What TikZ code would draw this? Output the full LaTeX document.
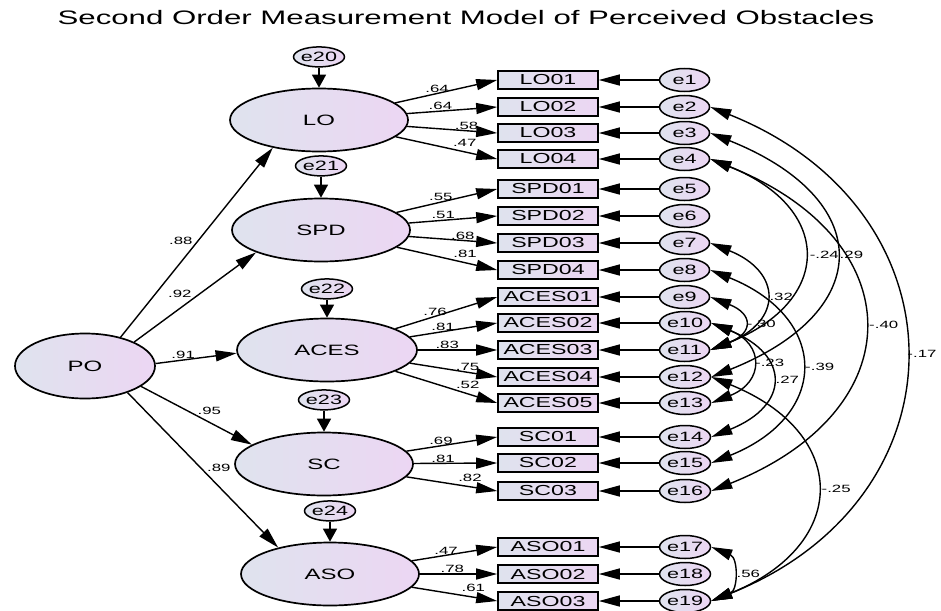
\documentclass[tikz,border=0pt]{standalone}
\usepackage{fontspec}
\setmainfont{Liberation Sans}[FakeStretch=1.6]
\usetikzlibrary{positioning,arrows.meta,shapes.geometric}
\definecolor{latA}{HTML}{DFE3EE}
\definecolor{latB}{HTML}{ECD6F3}

\begin{document}
\begin{tikzpicture}[
    x=1pt, y=1pt,
    lat/.style  = {draw, ellipse, line width=1.7pt, left color=latA, right color=latB,
                   minimum width=178pt, minimum height=63pt, inner sep=0pt,
                   font=\fontsize{15}{17}\selectfont},
    err/.style  = {draw, ellipse, line width=1.5pt, left color=latA, right color=latB,
                   minimum width=50pt, minimum height=23pt, inner sep=0pt,
                   font=\fontsize{13.5}{15}\selectfont},
    dist/.style = {err, minimum height=20pt},
    obs/.style  = {draw, rectangle, line width=1.6pt, left color=latA, right color=latB,
                   minimum width=100pt, minimum height=18pt, inner sep=0pt,
                   font=\fontsize{14.5}{16}\selectfont},
    ar/.style   = {-{Triangle[length=21pt,width=11pt]}, line width=1.4pt},
    dar/.style  = {-{Triangle[length=13pt,width=14pt]}, line width=1.4pt},
    cov/.style  = {{Triangle[length=21pt,width=11pt]}-{Triangle[length=21pt,width=11pt]},
                   line width=1.4pt},
    lbl/.style  = {font=\fontsize{10.5}{12}\selectfont, inner sep=0.5pt},
]
\useasboundingbox (0,0) rectangle (941,-610);

% ---------------- title ----------------
\node[font=\fontsize{19.5}{22}\selectfont] (title) at (466,-18)
    {Second Order Measurement Model of Perceived Obstacles};

% ---------------- latent factors ----------------
\node[lat, minimum width=140pt, minimum height=65pt] (PO) at (85,-366) {PO};
\node[lat] (LO)   at (319,-120) {LO};
\node[lat] (SPD)  at (321,-230) {SPD};
\node[lat, minimum width=180pt] (ACES) at (327,-350) {ACES};
\node[lat] (SC)   at (324,-464) {SC};
\node[lat] (ASO)  at (330,-574) {ASO};

% disturbances
\node[dist, above=20pt of LO]   (e20) {e20};
\node[dist, above=21pt of SPD]  (e21) {e21};
\node[dist, above=18pt of ACES] (e22) {e22};
\node[dist, above=21pt of SC]   (e23) {e23};
\node[dist, above=20pt of ASO]  (e24) {e24};

\draw[dar] (e20) -- (LO);
\draw[dar] (e21) -- (SPD);
\draw[dar] (e22) -- (ACES);
\draw[dar] (e23) -- (SC);
\draw[dar] (e24) -- (ASO);

% ---------------- second order paths ----------------
\draw[ar] (PO.39)  -- node[lbl, pos=0.48, above left]  {.88} (LO.211);
\draw[ar] (PO.26)  -- node[lbl, pos=0.48, above left]  {.92} (SPD.199);
\draw[ar] (PO.2)   -- node[lbl, pos=0.34, above]       {.91} (ACES.182);
\draw[ar] (PO.340) -- node[lbl, pos=0.50, above right] {.95} (SC.165);
\draw[ar] (PO.328) -- node[lbl, pos=0.52, above right] {.89} (ASO.153);

% ---------------- indicators ----------------
\node[obs] (LO01) at (548,-80)  {LO01};
\node[obs] (LO02) at (548,-107) {LO02};
\node[obs] (LO03) at (548,-133) {LO03};
\node[obs] (LO04) at (548,-159) {LO04};
\node[obs] (SPD01) at (548,-189) {SPD01};
\node[obs] (SPD02) at (548,-216) {SPD02};
\node[obs] (SPD03) at (548,-243) {SPD03};
\node[obs] (SPD04) at (548,-270) {SPD04};
\node[obs] (ACES01) at (548,-297) {ACES01};
\node[obs] (ACES02) at (548,-323) {ACES02};
\node[obs] (ACES03) at (548,-350) {ACES03};
\node[obs] (ACES04) at (548,-377) {ACES04};
\node[obs] (ACES05) at (548,-403) {ACES05};
\node[obs] (SC01) at (548,-437) {SC01};
\node[obs] (SC02) at (548,-463) {SC02};
\node[obs] (SC03) at (548,-491) {SC03};
\node[obs] (ASO01) at (548,-547) {ASO01};
\node[obs] (ASO02) at (548,-574) {ASO02};
\node[obs] (ASO03) at (548,-601) {ASO03};

% loadings
\draw[ar] (LO) -- node[lbl, pos=0.41, above] {.64} (LO01.west);
\draw[ar] (LO) -- node[lbl, pos=0.37, above] {.64} (LO02.west);
\draw[ar] (LO) -- node[lbl, pos=0.66, above] {.58} (LO03.west);
\draw[ar] (LO) -- node[lbl, pos=0.68, above=4pt] {.47} (LO04.west);

\draw[ar] (SPD) -- node[lbl, pos=0.44, above] {.55} (SPD01.west);
\draw[ar] (SPD) -- node[lbl, pos=0.39, above] {.51} (SPD02.west);
\draw[ar] (SPD) -- node[lbl, pos=0.61, above] {.68} (SPD03.west);
\draw[ar] (SPD) -- node[lbl, pos=0.68, above=4pt] {.81} (SPD04.west);

\draw[ar] (ACES) -- node[lbl, pos=0.39, above] {.76} (ACES01.west);
\draw[ar] (ACES) -- node[lbl, pos=0.38, above] {.81} (ACES02.west);
\draw[ar] (ACES) -- node[lbl, pos=0.37, above] {.83} (ACES03.west);
\draw[ar] (ACES) -- node[lbl, pos=0.66, above] {.75} (ACES04.west);
\draw[ar] (ACES) -- node[lbl, pos=0.71, above=4pt] {.52} (ACES05.west);

\draw[ar] (SC) -- node[lbl, pos=0.38, above] {.69} (SC01.west);
\draw[ar] (SC) -- node[lbl, pos=0.35, above] {.81} (SC02.west);
\draw[ar] (SC) -- node[lbl, pos=0.70, above=4pt] {.82} (SC03.west);

\draw[ar] (ASO) -- node[lbl, pos=0.40, above] {.47} (ASO01.west);
\draw[ar] (ASO) -- node[lbl, pos=0.42, above] {.78} (ASO02.west);
\draw[ar] (ASO) -- node[lbl, pos=0.72, above=4pt] {.61} (ASO03.west);

% ---------------- measurement errors ----------------
\node[err, right=60pt of LO01] (e1) {e1};
\node[err, right=60pt of LO02] (e2) {e2};
\node[err, right=60pt of LO03] (e3) {e3};
\node[err, right=60pt of LO04] (e4) {e4};
\node[err, right=60pt of SPD01] (e5) {e5};
\node[err, right=60pt of SPD02] (e6) {e6};
\node[err, right=60pt of SPD03] (e7) {e7};
\node[err, right=60pt of SPD04] (e8) {e8};
\node[err, right=60pt of ACES01] (e9) {e9};
\node[err, right=60pt of ACES02] (e10) {e10};
\node[err, right=60pt of ACES03] (e11) {e11};
\node[err, right=60pt of ACES04] (e12) {e12};
\node[err, right=60pt of ACES05] (e13) {e13};
\node[err, right=60pt of SC01] (e14) {e14};
\node[err, right=60pt of SC02] (e15) {e15};
\node[err, right=60pt of SC03] (e16) {e16};
\node[err, right=60pt of ASO01] (e17) {e17};
\node[err, right=60pt of ASO02] (e18) {e18};
\node[err, right=60pt of ASO03] (e19) {e19};

\draw[ar] (e1) -- (LO01);
\draw[ar] (e2) -- (LO02);
\draw[ar] (e3) -- (LO03);
\draw[ar] (e4) -- (LO04);
\draw[ar] (e5) -- (SPD01);
\draw[ar] (e6) -- (SPD02);
\draw[ar] (e7) -- (SPD03);
\draw[ar] (e8) -- (SPD04);
\draw[ar] (e9) -- (ACES01);
\draw[ar] (e10) -- (ACES02);
\draw[ar] (e11) -- (ACES03);
\draw[ar] (e12) -- (ACES04);
\draw[ar] (e13) -- (ACES05);
\draw[ar] (e14) -- (SC01);
\draw[ar] (e15) -- (SC02);
\draw[ar] (e16) -- (SC03);
\draw[ar] (e17) -- (ASO01);
\draw[ar] (e18) -- (ASO02);
\draw[ar] (e19) -- (ASO03);

% ---------------- error covariances ----------------
\draw[cov] (e2.east) .. controls +(258,-103) and +(258,103) .. (e19.east)
    node[lbl, pos=0.5, right=2pt] {-.17};
\draw[cov] (e3.east) .. controls +(165,-66) and +(165,66) .. (e12.east)
    node[lbl, pos=0.5, right=4pt] {.29};
\draw[cov] (e4.east) .. controls +(123,-49) and +(123,49) .. (e11.east)
    node[lbl, pos=0.5, right=6pt] {-.24};
\draw[cov] (e4.east) .. controls +(203,-81) and +(203,81) .. (e16.east)
    node[lbl, pos=0.5, right=5pt] {-.40};
\draw[cov] (e7.east) .. controls +(72,-29) and +(72,29) .. (e11.east)
    node[lbl, pos=0.5, right=4pt] {.32};
\draw[cov] (e8.east) .. controls +(119,-48) and +(119,48) .. (e15.east)
    node[lbl, pos=0.5, right=4pt] {-.39};
\draw[cov] (e9.east) .. controls +(43,-17) and +(43,17) .. (e11.east)
    node[lbl, pos=0.5, right=3pt] {-.30};
\draw[cov] (e10.east) .. controls +(53,-21) and +(53,21) .. (e13.east)
    node[lbl, pos=0.5, right=3pt] {-.23};
\draw[cov] (e10.east) .. controls +(79,-32) and +(79,32) .. (e14.east)
    node[lbl, pos=0.5, right=4pt] {.27};
\draw[cov] (e12.east) .. controls +(139,-56) and +(139,56) .. (e19.east)
    node[lbl, pos=0.5, right=5pt] {-.25};
\draw[cov] (e17.east) .. controls +(27,-11) and +(27,11) .. (e19.east)
    node[lbl, pos=0.5, right=4pt] {.56};

\end{tikzpicture}
\end{document}
